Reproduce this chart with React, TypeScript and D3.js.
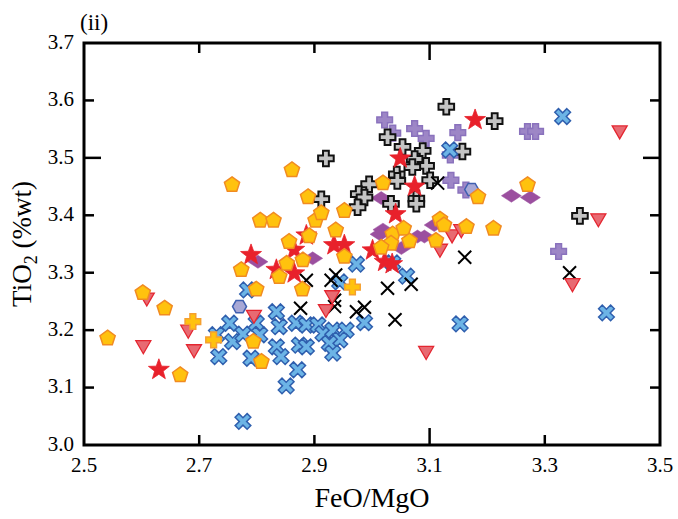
import React from "react";
import * as d3 from "d3";

// ---- data (FeO/MgO, TiO2 wt%) ----
const blueCross: [number, number][] = [
  [2.730, 3.192], [2.734, 3.154], [2.753, 3.212], [2.758, 3.180], [2.776, 3.193],
  [2.790, 3.151], [2.784, 3.270], [2.799, 3.212], [2.776, 3.041], [2.805, 3.192],
  [2.834, 3.232], [2.839, 3.206], [2.868, 3.212], [2.886, 3.209], [2.906, 3.209],
  [2.915, 3.194], [2.932, 3.200], [2.955, 3.200], [2.944, 3.183], [2.926, 3.177],
  [2.932, 3.160], [2.874, 3.174], [2.886, 3.171], [2.834, 3.171], [2.842, 3.154],
  [2.871, 3.131], [2.851, 3.103], [2.987, 3.213], [2.944, 3.284], [2.973, 3.315],
  [3.036, 3.317], [3.060, 3.294], [3.135, 3.514], [3.331, 3.572], [3.153, 3.211],
  [3.407, 3.230],
];
const blackX: [number, number][] = [
  [2.876, 3.238], [2.886, 3.287], [2.929, 3.287], [2.937, 3.296], [2.935, 3.252],
  [2.935, 3.241], [2.973, 3.232], [2.987, 3.240], [3.040, 3.218], [3.027, 3.273],
  [3.068, 3.280], [3.114, 3.456], [3.161, 3.327], [3.343, 3.300],
];
const pentagons: [number, number][] = [
  [2.541, 3.186], [2.602, 3.265], [2.640, 3.238], [2.667, 3.122], [2.773, 3.305],
  [2.799, 3.271], [2.794, 3.180], [2.808, 3.145], [2.757, 3.453], [2.861, 3.479],
  [2.806, 3.391], [2.829, 3.391], [2.856, 3.354], [2.852, 3.316], [2.839, 3.293],
  [2.880, 3.322], [2.879, 3.271], [2.891, 3.364], [2.902, 3.391], [2.912, 3.404],
  [2.889, 3.432], [2.937, 3.374], [2.952, 3.408], [2.952, 3.328], [3.019, 3.456],
  [3.036, 3.367], [3.055, 3.377], [3.065, 3.355], [3.033, 3.351], [3.016, 3.344],
  [3.118, 3.393], [3.125, 3.383], [3.164, 3.380], [3.111, 3.356], [3.184, 3.432],
  [3.270, 3.453], [3.211, 3.377],
];
const stars: [number, number][] = [
  [2.630, 3.131], [2.790, 3.331], [2.834, 3.305], [2.865, 3.340], [2.865, 3.299],
  [2.886, 3.365], [2.934, 3.348], [2.952, 3.348], [3.001, 3.339], [3.022, 3.319],
  [3.035, 3.315], [3.041, 3.402], [3.049, 3.499], [3.074, 3.450], [3.179, 3.566],
];
const triangles: [number, number][] = [
  [2.609, 3.255], [2.603, 3.172], [2.681, 3.199], [2.691, 3.165], [2.795, 3.225],
  [2.920, 3.235], [2.931, 3.259], [3.094, 3.162], [3.139, 3.365], [3.155, 3.374],
  [3.118, 3.340], [3.430, 3.546], [3.393, 3.393], [3.348, 3.280],
];
const orangePlus: [number, number][] = [
  [2.689, 3.215], [2.725, 3.183], [2.966, 3.275],
];
const purplePlus: [number, number][] = [
  [3.022, 3.566], [3.036, 3.543], [3.074, 3.551], [3.094, 3.534], [3.149, 3.544],
  [3.136, 3.505], [3.137, 3.461], [3.163, 3.444], [3.270, 3.546], [3.284, 3.546],
  [3.324, 3.337],
];
const grayPlus: [number, number][] = [
  [2.920, 3.499], [3.027, 3.536], [3.053, 3.519], [3.088, 3.512], [3.129, 3.589],
  [3.213, 3.564], [3.157, 3.511], [3.074, 3.498], [3.094, 3.486], [3.070, 3.484],
  [3.043, 3.471], [3.044, 3.460], [3.101, 3.461], [2.995, 3.454], [2.977, 3.437],
  [2.987, 3.431], [2.975, 3.414], [3.033, 3.420], [3.077, 3.429], [3.077, 3.420],
  [2.912, 3.428], [3.361, 3.399],
];
const diamonds: [number, number][] = [
  [2.802, 3.319], [2.897, 3.325], [3.016, 3.430], [3.019, 3.375], [3.014, 3.367],
  [3.051, 3.343], [3.079, 3.363], [3.091, 3.363], [3.108, 3.383], [3.242, 3.434],
  [3.275, 3.431],
];
const hexagons: [number, number][] = [
  [2.770, 3.241], [3.173, 3.445],
];

const xTicks = [2.7, 2.9, 3.1, 3.3];
const yTicks = [3.1, 3.2, 3.3, 3.4, 3.5, 3.6];
const xLabels = [2.5, 2.7, 2.9, 3.1, 3.3, 3.5];
const yLabels = [3.0, 3.1, 3.2, 3.3, 3.4, 3.5, 3.6, 3.7];

// ---- layout ----
const W = 678, H = 519;
const L = 84, R = 660, T = 43, B = 445;
const FONT = "'Liberation Serif', 'Times New Roman', serif";

const x = d3.scaleLinear().domain([2.5, 3.5]).range([L, R]);
const y = d3.scaleLinear().domain([3.0, 3.7]).range([B, T]);

// ---- marker shapes ----
const poly = (pts: [number, number][]) => "M" + pts.map(p => p[0].toFixed(2) + "," + p[1].toFixed(2)).join("L") + "Z";
const plusPts = (a: number, w: number): [number, number][] => [
  [-w, -a], [w, -a], [w, -w], [a, -w], [a, w], [w, w], [w, a], [-w, a], [-w, w], [-a, w], [-a, -w], [-w, -w],
];
const rot = (pts: [number, number][], ang: number): [number, number][] =>
  pts.map(([px, py]) => [px * Math.cos(ang) - py * Math.sin(ang), px * Math.sin(ang) + py * Math.cos(ang)]);
const regular = (n: number, r: number, start: number): [number, number][] =>
  d3.range(n).map(i => {
    const t = start + (i * 2 * Math.PI) / n;
    return [r * Math.cos(t), r * Math.sin(t)] as [number, number];
  });
const starPts = (ro: number, ri: number): [number, number][] =>
  d3.range(10).map(i => {
    const t = -Math.PI / 2 + (i * Math.PI) / 5;
    const r = i % 2 === 0 ? ro : ri;
    return [r * Math.cos(t), r * Math.sin(t)] as [number, number];
  });

const shapeBlueX = poly(rot(plusPts(8.5, 2.6), Math.PI / 4));
const shapePlus = poly(plusPts(7.8, 2.9));
const shapePent = poly(regular(5, 8, -Math.PI / 2));
const shapeStar = poly(starPts(11, 4.5));
const shapeTri = poly([[-7.5, -5.5], [7.5, -5.5], [0, 7.5]]);
const shapeDiamond = poly([[-10, 0], [0, -6.5], [10, 0], [0, 6.5]]);
const shapeHex = poly(regular(6, 7, 0));
const shapeBlackX = "M-6.5,-6.5L6.5,6.5M-6.5,6.5L6.5,-6.5";

type Series = { data: [number, number][]; d: string; fill: string; stroke: string; sw: number; };

const series: Series[] = [
  { data: purplePlus, d: shapePlus, fill: "#9d86c6", stroke: "#8a72bd", sw: 1.5 },
  { data: diamonds, d: shapeDiamond, fill: "#9b4f9f", stroke: "#9b4f9f", sw: 0.5 },
  { data: grayPlus, d: shapePlus, fill: "#c4c4c4", stroke: "#111111", sw: 2 },
  { data: blueCross, d: shapeBlueX, fill: "#6cb4e6", stroke: "#2f5fae", sw: 1.5 },
  { data: hexagons, d: shapeHex, fill: "#a8a8d6", stroke: "#3f5fb0", sw: 1.5 },
  { data: blackX, d: shapeBlackX, fill: "none", stroke: "#000000", sw: 2 },
  { data: triangles, d: shapeTri, fill: "#e86a72", stroke: "#e42630", sw: 1.3 },
  { data: stars, d: shapeStar, fill: "#e8212b", stroke: "#e8212b", sw: 0.8 },
  { data: pentagons, d: shapePent, fill: "#ffc20e", stroke: "#f18b22", sw: 1.5 },
  { data: orangePlus, d: shapePlus, fill: "#ffc20e", stroke: "#f5a030", sw: 1.5 },
];

export default function App() {
  return (
    <svg width={W} height={H} style={{ position: "absolute", left: 0, top: 0, background: "#fff" }}
      fontFamily={FONT}>
      {/* markers */}
      <g>
        {series.map((s, si) => (
          <g key={si}>
            {s.data.map((p, i) => (
              <path key={i} d={s.d} transform={`translate(${x(p[0])},${y(p[1])})`}
                fill={s.fill} stroke={s.stroke} strokeWidth={s.sw} strokeLinejoin="miter" />
            ))}
          </g>
        ))}
      </g>
      {/* frame */}
      <rect x={L} y={T} width={R - L} height={B - T} fill="none" stroke="#000" strokeWidth={3} />
      {/* ticks */}
      <g stroke="#000" strokeWidth={2.5}>
        {xTicks.map((v, i) => {
          const len = v === 3.1 ? 17 : 10;
          return (
            <g key={i}>
              <line x1={x(v)} x2={x(v)} y1={B} y2={B - len} />
              <line x1={x(v)} x2={x(v)} y1={T} y2={T + len} />
            </g>
          );
        })}
        {yTicks.map((v, i) => {
          const len = Math.abs(v - 3.5) < 1e-9 ? 17 : 10;
          return (
            <g key={i}>
              <line x1={L} x2={L + len} y1={y(v)} y2={y(v)} />
              <line x1={R} x2={R - len} y1={y(v)} y2={y(v)} />
            </g>
          );
        })}
      </g>
      {/* tick labels */}
      <g fontSize={21} fill="#000">
        {xLabels.map((v, i) => (
          <text key={i} x={x(v)} y={B + 27} textAnchor="middle">{d3.format(".1f")(v)}</text>
        ))}
        {yLabels.map((v, i) => (
          <text key={i} x={L - 10} y={y(v) + 1} textAnchor="end" dominantBaseline="middle">{d3.format(".1f")(v)}</text>
        ))}
      </g>
      {/* titles */}
      <text x={(L + R) / 2} y={507} textAnchor="middle" fontSize={28}>FeO/MgO</text>
      <text transform={`translate(31,${(T + B) / 2}) rotate(-90)`} textAnchor="middle" fontSize={27}>
        TiO<tspan dy={6} fontSize={18}>2</tspan><tspan dy={-6}> (%wt)</tspan>
      </text>
      <text x={80} y={30} fontSize={23}>(ii)</text>
    </svg>
  );
}
